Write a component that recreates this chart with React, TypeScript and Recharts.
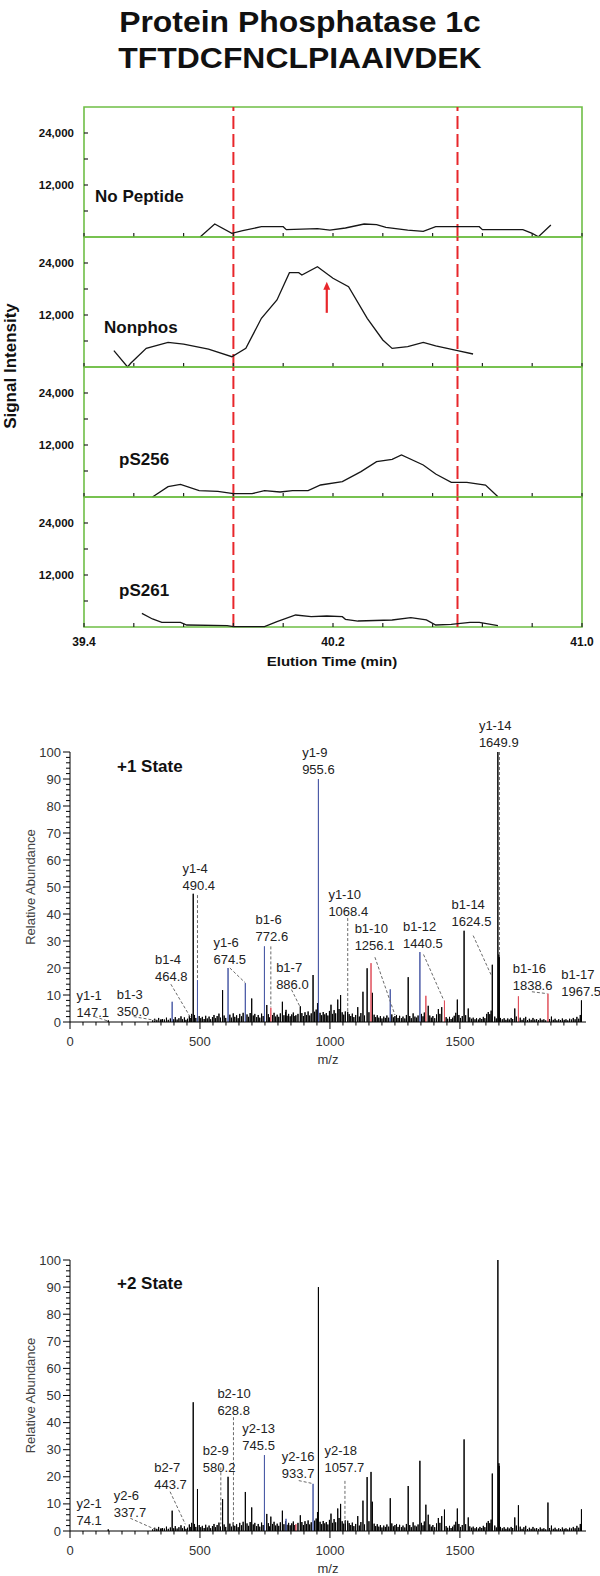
import {
  ComposedChart,
  Line,
  LineChart,
  ReferenceArea,
  ReferenceDot,
  ReferenceLine,
  XAxis,
  YAxis,
} from "recharts";

type Pair = [number, number];

const SANS = '"Liberation Sans", Arial, Helvetica, sans-serif';
const GREEN = "#6fbe46";
const RED = "#e8262b";
const BLUE = "#4b5ba6";
const PINK = "#e0505c";

// ---- elution profiles [time (min), signal] ----
const noPeptide: Pair[] = [
  [39.773, 0], [39.82, 3000], [39.875, 850], [39.91, 1450], [39.97, 2380],
  [40.04, 2380], [40.05, 1700], [40.15, 1920], [40.19, 1600], [40.24, 2080],
  [40.3, 3000], [40.34, 2850], [40.37, 2230], [40.44, 1600], [40.49, 1300],
  [40.53, 2380], [40.67, 2380], [40.68, 1700], [40.81, 1700], [40.84, 850],
  [40.86, 70], [40.9, 2770],
];
const nonphos: Pair[] = [
  [39.496, 3770], [39.54, 0], [39.55, 850], [39.6, 4300], [39.67, 5690],
  [39.72, 5300], [39.8, 4150], [39.875, 2380], [39.92, 4300], [39.97, 11240],
  [40.02, 15460], [40.06, 21760], [40.09, 21760], [40.1, 21230], [40.15, 23150],
  [40.2, 20470], [40.25, 18530], [40.31, 11240], [40.36, 6230], [40.39, 4300],
  [40.44, 4690], [40.49, 5690], [40.53, 4850], [40.6, 3770], [40.65, 3000],
];
const pS256: Pair[] = [
  [39.62, 0], [39.67, 2380], [39.71, 2920], [39.77, 1460], [39.83, 1310],
  [39.88, 770], [39.94, 770], [39.98, 1460], [40.03, 1150], [40.07, 1460],
  [40.12, 1460], [40.16, 2770], [40.23, 3540], [40.29, 5850], [40.34, 8150],
  [40.39, 8700], [40.42, 9690], [40.49, 7380], [40.53, 5310], [40.58, 3390],
  [40.63, 3390], [40.69, 2770], [40.73, 70],
];
const pS261: Pair[] = [
  [39.586, 3150], [39.62, 1850], [39.65, 1080], [39.71, 1080], [39.73, 460],
  [39.86, 300], [39.88, 70], [39.98, 70], [40.02, 1230], [40.08, 2770],
  [40.13, 2380], [40.18, 2540], [40.23, 2380], [40.24, 1770], [40.28, 1380],
  [40.39, 1620], [40.45, 2150], [40.5, 1620], [40.53, 460], [40.58, 620],
  [40.64, 1080], [40.67, 1080], [40.73, 300],
];

const timeTicks = [39.4, 39.56, 39.72, 39.88, 40.04, 40.2, 40.36, 40.52, 40.68, 40.84, 41.0];
const timeLabels = [39.4, 40.2, 41.0];
const signalTicks = [6000, 12000, 18000, 24000];
const signalLabels = [12000, 24000];
const windowEdges = [39.88, 40.6];
const arrowAt = { t: 40.18, from: 12500, to: 19700 };

// ---- MS/MS spectrum [m/z, relative abundance %] ----
const mainPeaks: Pair[] = [
  [147.1, 0.6], [350.0, 1.0], [393, 7.5], [464.8, 1.5], [474, 47.5], [490.4, 15.5],
  [587, 11.8], [608, 20], [674.5, 14.4], [699, 8.7], [748, 28], [757, 6.3],
  [772.6, 5.3], [817, 7.5], [831, 4.5], [869, 2.5], [886, 5.8], [935, 17.4],
  [952, 7], [955.6, 90], [1004, 6.4], [1030, 8.3], [1041, 10], [1068.4, 3.8],
  [1107, 5.5], [1127, 11.2], [1143, 19.9], [1158, 21.8], [1163, 10.8], [1232, 12.1],
  [1256.1, 2.6], [1301, 16.6], [1346, 25.9], [1369, 9.7], [1378, 6], [1417, 4.8],
  [1430, 5.5], [1440.5, 7.9], [1490, 8.3], [1516, 33.8], [1532, 5], [1609, 3.7],
  [1624.5, 21.2], [1646, 100], [1649.9, 25], [1651, 24], [1711, 5], [1725, 9.5],
  [1838.6, 10.5], [1967.5, 8],
];
const grassPeaks: Pair[] = [
  [318, 0.6], [326, 1.2], [334, 0.8], [341, 1.5], [349, 0.7], [356, 1.1], [363, 0.9],
  [371, 1.6], [378, 0.8], [386, 1.3], [399, 1.0], [405, 1.8], [412, 0.9], [419, 1.4],
  [427, 2.1], [433, 1.0], [440, 1.7], [446, 0.8], [452, 1.2], [459, 2.4], [468, 3.0],
  [479, 2.6], [484, 1.5], [497, 2.2], [503, 1.4], [509, 1.9], [516, 1.1], [522, 2.3],
  [528, 1.3], [535, 2.0], [541, 1.0], [548, 1.8], [554, 2.6], [560, 1.4], [566, 2.2],
  [573, 3.1], [579, 1.6], [593, 2.4], [599, 1.5], [615, 2.7], [621, 1.6], [628, 3.2],
  [634, 1.9], [641, 2.5], [647, 1.4], [653, 3.0], [660, 2.1], [666, 3.4], [681, 2.8],
  [687, 1.9], [693, 3.3], [705, 2.4], [711, 3.0], [718, 1.8], [724, 2.6], [730, 1.6],
  [737, 3.1], [743, 2.2], [763, 2.9], [768, 1.7], [779, 2.6], [785, 3.4], [791, 2.0],
  [797, 2.7], [803, 1.9], [809, 3.2], [823, 2.5], [829, 3.6], [835, 2.3], [841, 3.0],
  [847, 2.1], [853, 2.8], [859, 3.5], [865, 2.2], [877, 3.0], [892, 3.3], [898, 2.2],
  [904, 3.6], [910, 2.6], [916, 3.9], [922, 2.4], [928, 3.2], [941, 3.8], [947, 4.6],
  [962, 3.4], [968, 2.5], [974, 3.7], [980, 2.8], [986, 3.3], [992, 2.4], [998, 4.1],
  [1010, 3.0], [1016, 4.4], [1022, 3.2], [1035, 4.8], [1047, 3.6], [1053, 2.7],
  [1059, 3.9], [1074, 2.9], [1080, 2.2], [1086, 3.1], [1092, 1.8], [1099, 2.6],
  [1113, 2.0], [1119, 3.3], [1133, 2.4], [1150, 3.6], [1170, 2.7], [1176, 1.8],
  [1182, 2.5], [1188, 1.6], [1194, 2.2], [1200, 1.3], [1207, 2.0], [1213, 1.5],
  [1219, 2.4], [1226, 1.6], [1238, 2.8], [1244, 1.7], [1250, 2.2], [1262, 1.5],
  [1268, 2.3], [1275, 1.4], [1281, 2.0], [1288, 1.3], [1294, 2.6], [1307, 2.2],
  [1313, 1.4], [1320, 3.2], [1327, 2.0], [1333, 1.6], [1339, 2.4], [1352, 3.0],
  [1358, 2.1], [1363, 3.5], [1384, 2.4], [1390, 1.6], [1396, 2.2], [1403, 1.4],
  [1410, 2.8], [1423, 3.0], [1447, 1.8], [1453, 1.2], [1460, 1.9], [1466, 1.1],
  [1472, 1.6], [1478, 2.3], [1484, 3.4], [1496, 2.6], [1502, 1.5], [1509, 2.2],
  [1522, 2.5], [1538, 1.7], [1545, 1.2], [1551, 1.6], [1558, 1.0], [1564, 1.4],
  [1571, 0.9], [1577, 1.5], [1584, 1.1], [1590, 1.9], [1596, 1.4], [1603, 3.0],
  [1615, 2.9], [1620, 4.2], [1634, 2.0], [1640, 1.3], [1656, 1.5], [1663, 1.0],
  [1670, 1.4], [1677, 0.8], [1684, 1.3], [1690, 0.9], [1697, 1.5], [1703, 1.1],
  [1717, 2.0], [1732, 1.6], [1739, 0.8], [1746, 1.4], [1753, 1.9], [1760, 0.7],
  [1767, 1.2], [1774, 0.8], [1781, 1.5], [1788, 0.9], [1795, 1.1], [1802, 0.7],
  [1809, 1.3], [1816, 0.8], [1823, 1.0], [1830, 0.6], [1845, 1.1], [1852, 2.0],
  [1859, 0.8], [1866, 1.2], [1873, 0.6], [1880, 1.0], [1887, 0.7], [1894, 1.3],
  [1901, 0.8], [1908, 1.0], [1915, 0.6], [1922, 1.2], [1929, 0.9], [1936, 1.5],
  [1943, 1.0], [1950, 1.9], [1957, 1.2], [1963, 2.6],
];

// colour assignments (m/z of matched fragments)
const blueIons1 = [393, 490.4, 608, 674.5, 748, 955.6, 1232, 1346];
const redIons1 = [772.6, 1158, 1369, 1440.5, 1725, 1838.6];
const blueIons2 = [748, 831, 935];
const redIons2 = [869];

// fragment labels
const ions1 = [
  ["y1-1", "147.1"], ["b1-3", "350.0"], ["b1-4", "464.8"], ["y1-4", "490.4"],
  ["y1-6", "674.5"], ["b1-6", "772.6"], ["b1-7", "886.0"], ["y1-9", "955.6"],
  ["y1-10", "1068.4"], ["b1-10", "1256.1"], ["b1-12", "1440.5"], ["b1-14", "1624.5"],
  ["y1-14", "1649.9"], ["b1-16", "1838.6"], ["b1-17", "1967.5"],
];
const ions2 = [
  ["y2-1", "74.1"], ["y2-6", "337.7"], ["b2-7", "443.7"], ["b2-9", "580.2"],
  ["b2-10", "628.8"], ["y2-13", "745.5"], ["y2-16", "933.7"], ["y2-18", "1057.7"],
];

// label anchors and leader lines, in axis units (layout only)
const spots1: Pair[] = [
  [25, 10], [180, 10.3], [327, 23.2], [433, 57], [552, 29.5], [714, 38], [793, 20.2],
  [893, 99.7], [994, 47.2], [1095, 34.8], [1281, 35.5], [1468, 43.6], [1573, 110],
  [1703, 19.8], [1890, 17.6],
];
const spots2: Pair[] = [
  [25, 10.2], [168, 13.3], [324, 23.5], [511, 29.9], [567, 50.6], [663, 37.9],
  [815, 27.4], [979, 29.9],
];
const leaders1 = [
  [95, 2, 147.1, 0.3], [245, 2, 345, 0.3], [388, 14, 464.8, 1.5], [490.4, 47, 490.4, 16],
  [615, 20, 674.5, 14.5], [772.6, 28, 772.6, 5.5], [852, 12, 884, 5.8],
  [1068.4, 38.5, 1068.4, 3.8], [1173, 24, 1250, 2.6], [1360, 25, 1438, 8],
  [1551, 32, 1622, 17], [1652, 100, 1652, 25], [1777, 11.2, 1836, 10.5],
];
const leaders2 = [
  [232, 4.7, 330, 0.5], [385, 14.5, 443.7, 2.5], [580.2, 23.5, 580.2, 2.5],
  [628.8, 42, 628.8, 2], [880, 18.6, 933.7, 17.5], [1057.7, 18.5, 1057.7, 2.8],
];

const mzTicks = [
  0, 50, 100, 150, 200, 250, 300, 350, 400, 450, 500, 550, 600, 650, 700, 750, 800,
  850, 900, 950, 1000, 1050, 1100, 1150, 1200, 1250, 1300, 1350, 1400, 1450, 1500,
  1550, 1600, 1650, 1700, 1750, 1800, 1850, 1900, 1950,
];
const mzLabels = [0, 500, 1000, 1500];
const pctTicks = [
  0, 2, 4, 6, 8, 10, 12, 14, 16, 18, 20, 22, 24, 26, 28, 30, 32, 34, 36, 38, 40, 42,
  44, 46, 48, 50, 52, 54, 56, 58, 60, 62, 64, 66, 68, 70, 72, 74, 76, 78, 80, 82, 84,
  86, 88, 90, 92, 94, 96, 98, 100,
];

// ---------------- top: elution panels ----------------

function TimeTick({ x, y, payload, showLabel }: any) {
  const v = payload.value;
  return (
    <g>
      <line x1={x} x2={x} y1={y} y2={y - 4} stroke="#222" strokeWidth={1.2} />
      {showLabel && timeLabels.includes(v) && (
        <text
          x={x}
          y={y + 15}
          textAnchor="middle"
          dy="0.35em"
          fontFamily={SANS}
          fontWeight="bold"
          fontSize={12}
          fill="#111"
        >
          {v.toFixed(1)}
        </text>
      )}
    </g>
  );
}

function SignalTick({ x, y, payload }: any) {
  const v = payload.value;
  return (
    <g>
      <line x1={x} x2={x + 4} y1={y} y2={y} stroke="#222" strokeWidth={1.2} />
      {signalLabels.includes(v) && (
        <text
          x={x - 10}
          y={y}
          textAnchor="end"
          dy="0.35em"
          fontFamily={SANS}
          fontWeight="bold"
          fontSize={11.5}
          fill="#111"
        >
          {v.toLocaleString("en-US")}
        </text>
      )}
    </g>
  );
}

function ArrowShape(p: any) {
  const x = p.x1;
  const tip = Math.min(p.y1, p.y2);
  const tail = Math.max(p.y1, p.y2);
  return (
    <g>
      <line x1={x} x2={x} y1={tail} y2={tip + 6} stroke={RED} strokeWidth={2.2} />
      <polygon points={`${x},${tip} ${x - 3.5},${tip + 8} ${x + 3.5},${tip + 8}`} fill={RED} />
    </g>
  );
}

function Panel({
  trace,
  name,
  top,
  nameLeft,
  nameBase,
  last = false,
  arrow = false,
}: {
  trace: Pair[];
  name: string;
  top: number;
  nameLeft: number;
  nameBase: number;
  last?: boolean;
  arrow?: boolean;
}) {
  const rows = trace.map(([t, v]) => ({ t, v }));
  const extra = last ? 50 : 0;
  return (
    <div style={{ position: "absolute", left: 0, top: top - 2 }}>
      <LineChart
        width={600}
        height={133 + extra}
        data={rows}
        margin={{ top: 2, right: 18, bottom: extra, left: 8 }}
      >
        <XAxis
          dataKey="t"
          type="number"
          domain={[39.4, 41]}
          ticks={timeTicks}
          interval={0}
          height={1}
          tickSize={0}
          tickMargin={0}
          axisLine={false}
          tick={(p: any) => <TimeTick {...p} showLabel={last} />}
        />
        <YAxis
          type="number"
          domain={[0, 30000]}
          ticks={signalTicks}
          interval={0}
          width={76}
          tickSize={0}
          tickMargin={0}
          axisLine={false}
          tick={(p: any) => <SignalTick {...p} />}
        />
        <ReferenceArea
          x1={39.4}
          x2={41}
          y1={0}
          y2={30000}
          fill="none"
          fillOpacity={0}
          stroke={GREEN}
          strokeWidth={1.6}
          ifOverflow="visible"
        />
        {windowEdges.map((t) => (
          <ReferenceLine key={t} x={t} stroke={RED} strokeWidth={2} strokeDasharray="13 5" />
        ))}
        <Line
          dataKey="v"
          type="linear"
          stroke="#161616"
          strokeWidth={1.3}
          dot={false}
          activeDot={false}
          isAnimationActive={false}
        />
        {arrow && (
          <ReferenceLine
            segment={[
              { x: arrowAt.t, y: arrowAt.from },
              { x: arrowAt.t, y: arrowAt.to },
            ]}
            shape={ArrowShape}
            ifOverflow="visible"
          />
        )}
      </LineChart>
      <div
        style={{
          position: "absolute",
          left: nameLeft,
          top: nameBase + 2 - 0.846 * 17,
          fontSize: 17,
          lineHeight: 1,
          fontWeight: "bold",
          whiteSpace: "nowrap",
          color: "#111",
        }}
      >
        {name}
      </div>
    </div>
  );
}

// ---------------- bottom: spectra ----------------

const spikes = (list: Pair[]) =>
  [...list]
    .sort((a, b) => a[0] - b[0])
    .flatMap(([mz, pct]) => [
      { mz, v: 0 },
      { mz, v: pct },
      { mz, v: 0 },
      { mz, v: null },
    ]);

function MzTick({ x, y, payload }: any) {
  const v = payload.value;
  const major = mzLabels.includes(v);
  return (
    <g>
      <line x1={x} x2={x} y1={y} y2={y + (major ? 7 : 3.5)} stroke="#000" />
      {major && (
        <text x={x} y={y + 19} dy="0.35em" textAnchor="middle" fontSize={13} fill="#333" fontFamily={SANS}>
          {v}
        </text>
      )}
    </g>
  );
}

function PctTick({ x, y, payload }: any) {
  const v = payload.value;
  const major = v % 10 === 0;
  return (
    <g>
      <line x1={x - (major ? 7 : 4)} x2={x} y1={y} y2={y} stroke="#000" />
      {major && (
        <text x={x - 9} y={y} dy="0.35em" textAnchor="end" fontSize={13} fill="#333" fontFamily={SANS}>
          {v}
        </text>
      )}
    </g>
  );
}

function Spectrum({
  top,
  marginTop,
  plotHeight,
  state,
  stateBase,
  blue,
  red,
  ions,
  spots,
  leaders,
}: {
  top: number;
  marginTop: number;
  plotHeight: number;
  state: string;
  stateBase: number;
  blue: number[];
  red: number[];
  ions: string[][];
  spots: Pair[];
  leaders: number[][];
}) {
  const all = [...grassPeaks, ...mainPeaks];
  const black = all.filter(([mz]) => !blue.includes(mz) && !red.includes(mz));
  const bluePk = mainPeaks.filter(([mz]) => blue.includes(mz));
  const redPk = mainPeaks.filter(([mz]) => red.includes(mz));
  const bottom = 44;
  return (
    <div style={{ position: "absolute", left: 0, top }}>
      <ComposedChart
        width={600}
        height={marginTop + plotHeight + 1 + bottom}
        margin={{ top: marginTop, right: 14, bottom, left: 0 }}
      >
        <XAxis
          dataKey="mz"
          type="number"
          domain={[0, 1985]}
          ticks={mzTicks}
          interval={0}
          height={1}
          tickSize={0}
          tickMargin={0}
          stroke="#000"
          tick={(p: any) => <MzTick {...p} />}
          label={{ value: "m/z", position: "bottom", offset: 32, fontSize: 13, fill: "#333", fontFamily: SANS }}
        />
        <YAxis
          type="number"
          domain={[0, 100]}
          ticks={pctTicks}
          interval={0}
          width={70}
          tickSize={0}
          tickMargin={0}
          stroke="#000"
          tick={(p: any) => <PctTick {...p} />}
          label={{
            value: "Relative Abundance",
            angle: -90,
            position: "insideLeft",
            offset: 30,
            style: { textAnchor: "middle" },
            fontSize: 13,
            fill: "#444",
            fontFamily: SANS,
          }}
        />
        <Line data={spikes(black)} dataKey="v" stroke="#000" strokeWidth={1} dot={false} activeDot={false} isAnimationActive={false} />
        <Line data={spikes(bluePk)} dataKey="v" stroke={BLUE} strokeWidth={1} dot={false} activeDot={false} isAnimationActive={false} />
        <Line data={spikes(redPk)} dataKey="v" stroke={PINK} strokeWidth={1} dot={false} activeDot={false} isAnimationActive={false} />
        {leaders.map(([x1, y1, x2, y2], i) => (
          <ReferenceLine
            key={"l" + i}
            segment={[
              { x: x1, y: y1 },
              { x: x2, y: y2 },
            ]}
            stroke="#6a6a6a"
            strokeWidth={1}
            strokeDasharray="3 2"
            ifOverflow="visible"
          />
        ))}
        {ions.map(([ion, mz], i) => (
          <ReferenceDot
            key={"d" + i}
            x={spots[i][0]}
            y={spots[i][1]}
            r={0}
            ifOverflow="visible"
            shape={(p: any) => (
              <text x={p.cx} y={p.cy} fontSize={13} fill="#222" fontFamily={SANS}>
                <tspan x={p.cx} dy="0.35em">{ion}</tspan>
                <tspan x={p.cx} dy={17}>{mz}</tspan>
              </text>
            )}
          />
        ))}
      </ComposedChart>
      <div
        style={{
          position: "absolute",
          left: 117,
          top: stateBase - top - 0.846 * 17,
          fontSize: 17,
          lineHeight: 1,
          fontWeight: "bold",
          color: "#111",
          whiteSpace: "nowrap",
        }}
      >
        {state}
      </div>
    </div>
  );
}

export default function App() {
  const titleStyle = {
    position: "absolute" as const,
    left: 0,
    width: 600,
    textAlign: "center" as const,
    fontSize: 29,
    lineHeight: 1,
    fontWeight: "bold" as const,
    color: "#111",
    transform: "scaleX(1.1)",
    transformOrigin: "300px 0",
    whiteSpace: "nowrap" as const,
  };
  return (
    <div
      style={{
        position: "absolute",
        left: 0,
        top: 0,
        width: 600,
        height: 1576,
        background: "#fff",
        fontFamily: SANS,
        overflow: "hidden",
      }}
    >
      <div style={{ ...titleStyle, top: 32.5 - 0.846 * 29 }}>Protein Phosphatase 1c</div>
      <div style={{ ...titleStyle, top: 68.5 - 0.846 * 29 }}>TFTDCFNCLPIAAIVDEK</div>

      <Panel trace={noPeptide} name="No Peptide" top={107} nameLeft={95} nameBase={95} />
      <Panel trace={nonphos} name="Nonphos" top={237} nameLeft={104} nameBase={96} arrow />
      <Panel trace={pS256} name="pS256" top={367} nameLeft={119} nameBase={98} />
      <Panel trace={pS261} name="pS261" top={497} nameLeft={119} nameBase={99} last />

      <div
        style={{
          position: "absolute",
          left: 11 - 75,
          top: 366 - 10,
          width: 150,
          height: 20,
          lineHeight: "20px",
          textAlign: "center",
          fontSize: 17,
          fontWeight: "bold",
          color: "#111",
          whiteSpace: "nowrap",
          transform: "rotate(-90deg)",
        }}
      >
        Signal Intensity
      </div>
      <div
        style={{
          position: "absolute",
          left: 332 - 100,
          top: 662 - 8,
          width: 200,
          lineHeight: "16px",
          textAlign: "center",
          fontSize: 12.5,
          fontWeight: "bold",
          color: "#111",
          transform: "scaleX(1.2)",
        }}
      >
        Elution Time (min)
      </div>

      <Spectrum
        top={700}
        marginTop={52}
        plotHeight={270}
        state="+1 State"
        stateBase={772}
        blue={blueIons1}
        red={redIons1}
        ions={ions1}
        spots={spots1}
        leaders={leaders1}
      />
      <Spectrum
        top={1200}
        marginTop={60}
        plotHeight={271}
        state="+2 State"
        stateBase={1289}
        blue={blueIons2}
        red={redIons2}
        ions={ions2}
        spots={spots2}
        leaders={leaders2}
      />
    </div>
  );
}
